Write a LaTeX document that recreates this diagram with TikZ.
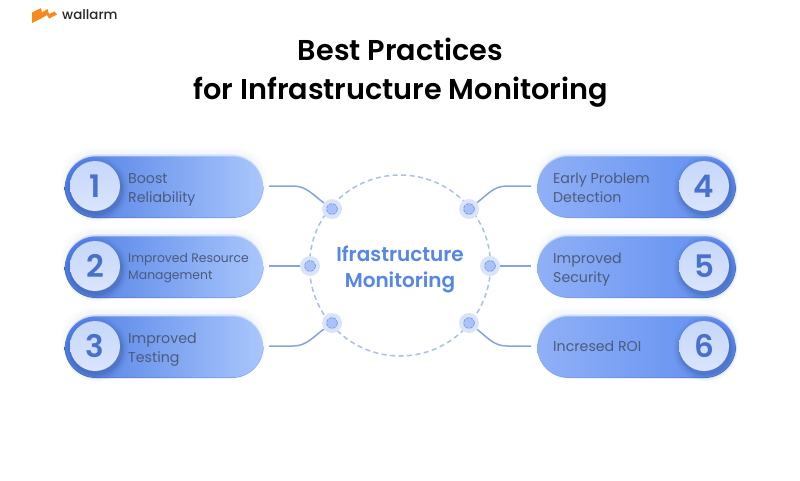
\documentclass[tikz,border=0pt]{standalone}
\usepackage{fontspec}
\setmainfont{Poppins}
\newfontfamily\semi{Poppins SemiBold}
\newfontfamily\med{Poppins Medium}
\usetikzlibrary{calc}
\definecolor{pdark}{HTML}{4F7FE6}
\definecolor{plight}{HTML}{A9C6FC}
\definecolor{rdark}{HTML}{5E8DF0}
\definecolor{rlight}{HTML}{90B0F6}
\definecolor{rim}{HTML}{3F66BE}
\definecolor{rimfade}{HTML}{86A8EE}
\definecolor{numc}{HTML}{4771CC}
\definecolor{lbl}{HTML}{4C5A7C}
\definecolor{circ}{HTML}{A8BFEF}
\definecolor{wire}{HTML}{85A3E2}
\definecolor{halo}{HTML}{D9E4FB}
\definecolor{dotc}{HTML}{A9C3FA}
\definecolor{dotr}{HTML}{7D9FE8}
\definecolor{mid}{HTML}{5586E8}
\definecolor{orangeL}{HTML}{F78A1E}
\definecolor{numtop}{HTML}{C6D7FB}
\definecolor{numbot}{HTML}{DAE5FD}
\tikzset{
 pillbox/.style={rectangle,rounded corners=31pt,minimum width=198pt,minimum height=61pt,inner sep=0pt},
 pilltext/.style={anchor=west,align=left,font=\fontsize{14.2}{19}\selectfont,text=lbl,inner sep=0pt},
 numdisc/.style={circle,minimum size=50pt,inner sep=0pt,top color=numtop,bottom color=numbot,text=numc,font=\semi\fontsize{31}{31}\selectfont},
 hub/.style={circle,minimum size=20pt,inner sep=0pt,fill=halo},
 wirel/.style={draw=wire,line width=1.5pt},
}
% #1 name, #2 centre y, #3 centre x, #4 left colour, #5 right colour, #6 rim left, #7 rim right
\newcommand{\softpill}[7]{
  \foreach \g/\o in {6/0.012,4/0.016,2/0.02}{
    \fill[rim,opacity=\o,rounded corners=31pt] ($(#3,#2)+(-99pt-\g pt+2pt,-31pt+4pt)$) rectangle ($(#3,#2)+(99pt+\g pt-2pt,31pt+\g pt+2pt)$);
  }
  \fill[plight!55!white,rounded corners=31.5pt] ($(#3,#2)+(-99pt,-29pt)$) rectangle ($(#3,#2)+(99pt,31.6pt)$);
  \shade[left color=#6,right color=#7,rounded corners=31.5pt] ($(#3,#2)+(-99.5pt,-32pt)$) rectangle ($(#3,#2)+(99.5pt,27pt)$);
  \node[pillbox,left color=#4,right color=#5] (#1) at (#3,#2+0.8) {};
}
\newcommand{\numshadow}[2]{
  \foreach \g/\o in {7/0.05,5/0.08,3/0.1,1.5/0.14}{
    \fill[rim!70!black,opacity=\o] (#1+1.5,#2+3) circle[radius=25pt+\g pt];
  }
}
\newcommand{\hubdot}[3]{
  \node[hub] (#1) at (#2,#3) {};
  \fill[dotc] (#1.center) circle[radius=5.5pt];
  \draw[dotr,line width=0.8pt,dash pattern=on 3pt off 1.4pt] (#1.center) circle[radius=5.6pt];
}
\begin{document}
\begin{tikzpicture}[x=1pt,y=-1pt]
\useasboundingbox (0,0) rectangle (800,480);
\fill[white] (0,0) rectangle (800,480);
% logo
\fill[orangeL] (32,12.5) -- (41,8) -- (42,12.5) -- (47.5,9) -- (49,14) -- (54.5,11.5) -- (57,14.5) -- (49,18.5) -- (47,15) -- (42,18) -- (32,23) -- cycle;
\node[inner sep=0pt,anchor=west,font=\med\fontsize{13.4}{14}\selectfont,text=black!85] (logo) at (62,15) {wallarm};
% title
\node[inner sep=0pt,font=\semi\fontsize{28.7}{39}\selectfont,text=black,align=center] (title) at (400.5,73) {Best Practices\\for Infrastructure Monitoring};
% ring
\coordinate (ringc) at (400,265.5);
\draw[circ,line width=1.5pt,dash pattern=on 5pt off 3.5pt] (ringc) circle[radius=90.5pt];
% pills left
\softpill{p1}{186}{164}{pdark}{plight}{rim}{rimfade}
\softpill{p2}{266}{164}{pdark}{plight}{rim}{rimfade}
\softpill{p3}{346}{164}{pdark}{plight}{rim}{rimfade}
% pills right
\softpill{p4}{186}{636.5}{rlight}{rdark}{rimfade}{rim}
\softpill{p5}{266}{636.5}{rlight}{rdark}{rimfade}{rim}
\softpill{p6}{346}{636.5}{rlight}{rdark}{rimfade}{rim}
% discs
\numshadow{95}{186}\numshadow{95}{266}\numshadow{95}{346}
\numshadow{704}{186}\numshadow{704}{266}\numshadow{704}{346}
\node[numdisc] (n1) at (95,186) {1};
\node[numdisc] (n2) at (95,266) {2};
\node[numdisc] (n3) at (95,346) {3};
\node[numdisc] (n4) at (704,186) {4};
\node[numdisc] (n5) at (704,266) {5};
\node[numdisc] (n6) at (704,346) {6};
% labels
\node[pilltext] (t1) at (128,189.5) {Boost\\Reliability};
\node[pilltext,font=\fontsize{12.4}{17.5}\selectfont] (t2) at (128,268) {Improved Resource\\Management};
\node[pilltext] (t3) at (128,349.5) {Improved\\Testing};
\node[pilltext] (t4) at (553,187.5) {Early Problem\\Detection};
\node[pilltext] (t5) at (553,269.5) {Improved\\Security};
\node[pilltext] (t6) at (553,346) {Incresed ROI};
% hubs
\hubdot{h1}{332}{209}\hubdot{h2}{310}{266}\hubdot{h3}{332}{323}
\hubdot{h4}{469}{209}\hubdot{h5}{490}{266}\hubdot{h6}{469}{323}
% connectors
\coordinate (c1) at (269,186);\coordinate (c2) at (269,266);\coordinate (c3) at (269,346);
\coordinate (c4) at (531,186);\coordinate (c5) at (531,266);\coordinate (c6) at (531,346);
\draw[wirel] (c1) -- (293,186) .. controls (306,186) and (312,194) .. (h1);
\draw[wirel] (c3) -- (293,346) .. controls (306,346) and (312,338) .. (h3);
\draw[wirel] (c4) -- (507,186) .. controls (494,186) and (488,194) .. (h4);
\draw[wirel] (c6) -- (507,346) .. controls (494,346) and (488,338) .. (h6);
\draw[wirel] (c2) -- (h2);
\draw[wirel] (c5) -- (h5);
% centre
\node[inner sep=0pt,align=center,font=\semi\fontsize{20}{26}\selectfont,text=mid] (centre) at (400,269.5) {Ifrastructure\\Monitoring};
\end{tikzpicture}
\end{document}
